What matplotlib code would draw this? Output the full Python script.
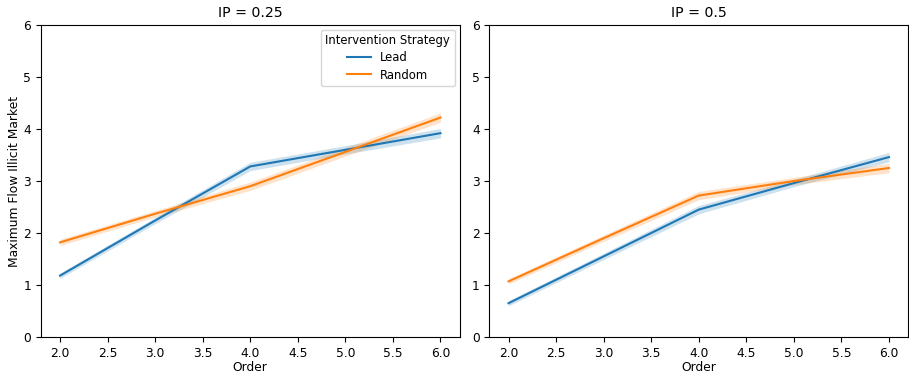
import matplotlib
matplotlib.use("Agg")
import matplotlib.pyplot as plt
import numpy as np

order = [2, 3, 4, 5, 6]
titles = ["IP = 0.25", "IP = 0.5"]
strategies = ["Lead", "Random"]
colors = ["#1f77b4", "#ff7f0e"]

lead_025 = [1.18, 2.24, 3.28, 3.60, 3.92]
random_025 = [1.82, 2.37, 2.90, 3.56, 4.22]
lead_05 = [0.65, 1.55, 2.45, 2.96, 3.46]
random_05 = [1.07, 1.90, 2.72, 3.00, 3.25]

ci_lead_025 = [0.05, 0.06, 0.08, 0.08, 0.09]
ci_random_025 = [0.06, 0.06, 0.08, 0.08, 0.09]
ci_lead_05 = [0.05, 0.06, 0.08, 0.07, 0.09]
ci_random_05 = [0.05, 0.06, 0.08, 0.07, 0.09]

data = [[(lead_025, ci_lead_025), (random_025, ci_random_025)],
        [(lead_05, ci_lead_05), (random_05, ci_random_05)]]

plt.rcParams.update({"font.size": 8.8, "axes.titlesize": 10.2,
                     "axes.labelsize": 8.8, "xtick.labelsize": 8.8,
                     "ytick.labelsize": 8.8, "legend.fontsize": 8.4,
                     "legend.title_fontsize": 8.4})

fig, axes = plt.subplots(1, 2, figsize=(9.09, 3.76), dpi=100)
for i, ax in enumerate(axes):
    for j, (vals, ci) in enumerate(data[i]):
        v = np.array(vals)
        c = np.array(ci)
        ax.fill_between(order, v - c, v + c, color=colors[j], alpha=0.22, linewidth=0)
        ax.plot(order, v, color=colors[j], linewidth=1.5, label=strategies[j])
    ax.set_ylim(0, 6)
    ax.set_xlabel("Order", labelpad=1)
    ax.set_title(titles[i])
    ax.set_xticks([2.0, 2.5, 3.0, 3.5, 4.0, 4.5, 5.0, 5.5, 6.0])
axes[0].set_ylabel("Maximum Flow Illicit Market", labelpad=2)
axes[0].legend(title="Intervention Strategy", loc="upper right",
               labelspacing=0.35, borderaxespad=0.4)
fig.subplots_adjust(left=0.0451, right=0.9989, top=0.9335, bottom=0.1037, wspace=0.0716)
fig.savefig("out.png", dpi=100)
